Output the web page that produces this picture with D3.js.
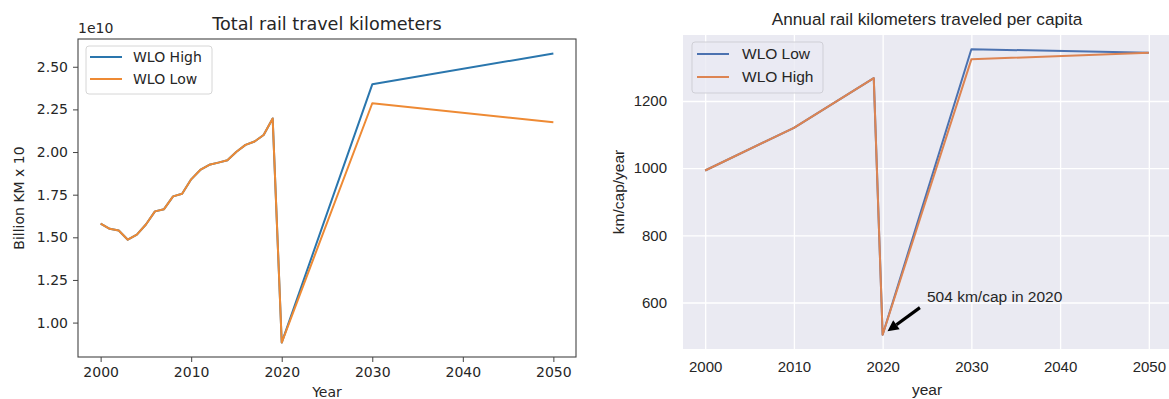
<!DOCTYPE html>
<html>
<head>
<meta charset="utf-8">
<script src="https://cdn.jsdelivr.net/npm/d3@7"></script>
<style>
  html, body { margin: 0; padding: 0; background: #ffffff; }
  svg { display: block; }
</style>
</head>
<body>
<svg id="chart" width="1169" height="399"></svg>
<script>
// ---- Total rail travel kilometers (values in units of 1e10 km) ----
const totalYears = [2000, 2001, 2002, 2003, 2004, 2005, 2006, 2007, 2008, 2009,
                    2010, 2011, 2012, 2013, 2014, 2015, 2016, 2017, 2018, 2019,
                    2020, 2030, 2050];
const totalHigh = [1.580, 1.550, 1.540, 1.486, 1.516, 1.575, 1.652, 1.665, 1.740, 1.755,
                   1.840, 1.895, 1.925, 1.938, 1.952, 2.002, 2.042, 2.062, 2.100, 2.197,
                   0.883, 2.397, 2.578];
const totalLow  = [1.580, 1.550, 1.540, 1.486, 1.516, 1.575, 1.652, 1.665, 1.740, 1.755,
                   1.840, 1.895, 1.925, 1.938, 1.952, 2.002, 2.042, 2.062, 2.100, 2.197,
                   0.883, 2.286, 2.175];
const totalYTicks = [1.00, 1.25, 1.50, 1.75, 2.00, 2.25, 2.50];
const yearTicks = [2000, 2010, 2020, 2030, 2040, 2050];

// ---- Annual rail kilometers per capita ----
const capitaYears = [2000, 2010, 2019, 2020, 2030, 2050];
const capitaLow  = [993, 1120, 1268, 504, 1354, 1344];
const capitaHigh = [993, 1120, 1268, 504, 1324, 1344];
const capitaYTicks = [600, 800, 1000, 1200];
const annotationPoint = [2020, 504];
const annotationText = [2025, 600];

const svg = d3.select("#chart");

// Matplotlib-style 5% padding around the data extent
function padded(lo, hi) {
  const m = (hi - lo) * 0.05;
  return [lo - m, hi + m];
}

// =================== Left panel ===================
(function () {
  const L = { left: 78, right: 576, top: 39, bottom: 357 };
  const blue = "#2a76ad", orange = "#ee8a34";
  const font = "DejaVu Sans, sans-serif";
  const ink = "#262626";

  const x = d3.scaleLinear()
    .domain(padded(d3.min(totalYears), d3.max(totalYears)))
    .range([L.left, L.right]);
  const all = totalHigh.concat(totalLow);
  const y = d3.scaleLinear()
    .domain(padded(d3.min(all), d3.max(all)))
    .range([L.bottom, L.top]);

  const g = svg.append("g");

  // lines
  const line = d3.line().x(d => x(d[0])).y(d => y(d[1]));
  g.append("path")
    .datum(totalYears.map((yr, i) => [yr, totalHigh[i]]))
    .attr("d", line).attr("fill", "none")
    .attr("stroke", blue).attr("stroke-width", 2).attr("stroke-linejoin", "round");
  g.append("path")
    .datum(totalYears.map((yr, i) => [yr, totalLow[i]]))
    .attr("d", line).attr("fill", "none")
    .attr("stroke", orange).attr("stroke-width", 2).attr("stroke-linejoin", "round");

  // axes
  const xAxis = d3.axisBottom(x).tickValues(yearTicks).tickFormat(d3.format("d"))
    .tickSizeInner(5).tickSizeOuter(0).tickPadding(5);
  const gx = g.append("g").attr("transform", `translate(0,${L.bottom})`).call(xAxis);
  const yAxis = d3.axisLeft(y).tickValues(totalYTicks).tickFormat(d3.format(".2f"))
    .tickSizeInner(5).tickSizeOuter(0).tickPadding(5);
  const gy = g.append("g").attr("transform", `translate(${L.left},0)`).call(yAxis);
  [gx, gy].forEach(a => {
    a.select(".domain").remove();
    a.selectAll(".tick line").attr("stroke", "#444").attr("stroke-width", 1);
    a.selectAll(".tick text").attr("fill", ink)
      .style("font-family", font).style("font-size", "14px");
  });

  // frame
  g.append("rect")
    .attr("x", L.left).attr("y", L.top)
    .attr("width", L.right - L.left).attr("height", L.bottom - L.top)
    .attr("fill", "none").attr("stroke", "#444").attr("stroke-width", 1.1);

  // offset text, title, axis labels
  g.append("text").attr("x", L.left).attr("y", 33)
    .style("font-family", font).style("font-size", "14px").attr("fill", ink)
    .text("1e10");
  g.append("text").attr("x", (L.left + L.right) / 2).attr("y", 30)
    .attr("text-anchor", "middle")
    .style("font-family", font).style("font-size", "17.6px").attr("fill", ink)
    .text("Total rail travel kilometers");
  g.append("text").attr("x", (L.left + L.right) / 2).attr("y", 397)
    .attr("text-anchor", "middle")
    .style("font-family", font).style("font-size", "14px").attr("fill", ink)
    .text("Year");
  g.append("text")
    .attr("transform", `translate(24,${(L.top + L.bottom) / 2}) rotate(-90)`)
    .attr("text-anchor", "middle")
    .style("font-family", font).style("font-size", "14px").attr("fill", ink)
    .text("Billion KM x 10");

  // legend
  const lg = g.append("g");
  lg.append("rect").attr("x", 86).attr("y", 46).attr("width", 126).attr("height", 48)
    .attr("rx", 3).attr("fill", "rgba(255,255,255,0.8)")
    .attr("stroke", "#d6d6d6").attr("stroke-width", 1);
  [["WLO High", blue, 57], ["WLO Low", orange, 79]].forEach(([label, c, yy]) => {
    lg.append("line").attr("x1", 90).attr("x2", 122).attr("y1", yy).attr("y2", yy)
      .attr("stroke", c).attr("stroke-width", 2);
    lg.append("text").attr("x", 133).attr("y", yy).attr("dy", "0.35em")
      .style("font-family", font).style("font-size", "14px").attr("fill", ink)
      .text(label);
  });
})();

// =================== Right panel ===================
(function () {
  const R = { left: 683, right: 1171, top: 35, bottom: 349 };
  const blue = "#4c72b0", orange = "#dd8452";
  const font = "Liberation Sans, Arial, sans-serif";
  const ink = "#262626";

  const x = d3.scaleLinear()
    .domain(padded(d3.min(capitaYears), d3.max(capitaYears)))
    .range([R.left, R.right]);
  const all = capitaLow.concat(capitaHigh);
  const y = d3.scaleLinear()
    .domain(padded(d3.min(all), d3.max(all)))
    .range([R.bottom, R.top]);

  const g = svg.append("g");

  g.append("rect")
    .attr("x", R.left).attr("y", R.top)
    .attr("width", R.right - R.left).attr("height", R.bottom - R.top)
    .attr("fill", "#eaeaf2");

  // white grid
  const xAxis = d3.axisBottom(x).tickValues(yearTicks).tickFormat(d3.format("d"))
    .tickSizeInner(-(R.bottom - R.top)).tickSizeOuter(0).tickPadding(12);
  const gx = g.append("g").attr("transform", `translate(0,${R.bottom})`).call(xAxis);
  const yAxis = d3.axisLeft(y).tickValues(capitaYTicks).tickFormat(d3.format("d"))
    .tickSizeInner(-(R.right - R.left)).tickSizeOuter(0).tickPadding(16);
  const gy = g.append("g").attr("transform", `translate(${R.left},0)`).call(yAxis);
  [gx, gy].forEach(a => {
    a.select(".domain").remove();
    a.selectAll(".tick line").attr("stroke", "#ffffff").attr("stroke-width", 1.3);
    a.selectAll(".tick text").attr("fill", ink)
      .style("font-family", font).style("font-size", "15px");
  });

  // lines
  const line = d3.line().x(d => x(d[0])).y(d => y(d[1]));
  g.append("path")
    .datum(capitaYears.map((yr, i) => [yr, capitaLow[i]]))
    .attr("d", line).attr("fill", "none")
    .attr("stroke", blue).attr("stroke-width", 2).attr("stroke-linejoin", "round");
  g.append("path")
    .datum(capitaYears.map((yr, i) => [yr, capitaHigh[i]]))
    .attr("d", line).attr("fill", "none")
    .attr("stroke", orange).attr("stroke-width", 2).attr("stroke-linejoin", "round");

  // annotation with arrow
  const px = x(annotationPoint[0]), py = y(annotationPoint[1]);
  const tx = x(annotationText[0]), ty = y(annotationText[1]);
  const dx = tx - px, dy = ty - py;
  const tip = [px + dx * 0.11, py + dy * 0.11];
  const tail = [px + dx * 0.84, py + dy * 0.84];
  const ang = Math.atan2(tip[1] - tail[1], tip[0] - tail[0]);
  const headLen = 11, headW = 5.5;
  const base = [tip[0] - headLen * Math.cos(ang), tip[1] - headLen * Math.sin(ang)];
  g.append("line")
    .attr("x1", tail[0]).attr("y1", tail[1]).attr("x2", base[0]).attr("y2", base[1])
    .attr("stroke", "#000").attr("stroke-width", 3.2);
  g.append("path")
    .attr("d", d3.line()([
      tip,
      [base[0] + headW * Math.sin(ang), base[1] - headW * Math.cos(ang)],
      [base[0] - headW * Math.sin(ang), base[1] + headW * Math.cos(ang)]
    ]) + "Z")
    .attr("fill", "#000");
  g.append("text").attr("x", tx).attr("y", ty)
    .style("font-family", font).style("font-size", "15.5px").attr("fill", ink)
    .text(`${annotationPoint[1]} km/cap in ${annotationPoint[0]}`);

  // title and labels
  g.append("text").attr("x", (R.left + R.right) / 2).attr("y", 25)
    .attr("text-anchor", "middle")
    .style("font-family", font).style("font-size", "17.2px").attr("fill", ink)
    .text("Annual rail kilometers traveled per capita");
  g.append("text").attr("x", (R.left + R.right) / 2).attr("y", 395)
    .attr("text-anchor", "middle")
    .style("font-family", font).style("font-size", "15.5px").attr("fill", ink)
    .text("year");
  g.append("text")
    .attr("transform", `translate(624,${(R.top + R.bottom) / 2}) rotate(-90)`)
    .attr("text-anchor", "middle")
    .style("font-family", font).style("font-size", "15.5px").attr("fill", ink)
    .text("km/cap/year");

  // legend
  const lg = g.append("g");
  lg.append("rect").attr("x", 692).attr("y", 42).attr("width", 131).attr("height", 51)
    .attr("rx", 3).attr("fill", "rgba(234,234,242,0.8)")
    .attr("stroke", "#cfcfd6").attr("stroke-width", 1);
  [["WLO Low", blue, 54], ["WLO High", orange, 77]].forEach(([label, c, yy]) => {
    lg.append("line").attr("x1", 697).attr("x2", 729).attr("y1", yy).attr("y2", yy)
      .attr("stroke", c).attr("stroke-width", 2);
    lg.append("text").attr("x", 742).attr("y", yy).attr("dy", "0.35em")
      .style("font-family", font).style("font-size", "15.5px").attr("fill", ink)
      .text(label);
  });
})();
</script>
</body>
</html>
